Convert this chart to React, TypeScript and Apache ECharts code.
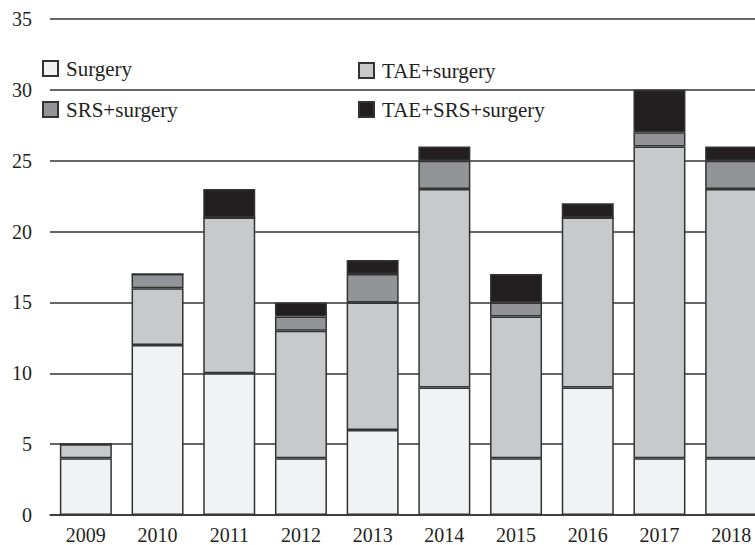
import React, { useEffect, useRef } from "react";
import * as echarts from "echarts";

const years = ["2009", "2010", "2011", "2012", "2013", "2014", "2015", "2016", "2017", "2018"];
const surgery = [4, 12, 10, 4, 6, 9, 4, 9, 4, 4];
const taeSurgery = [1, 4, 11, 9, 9, 14, 10, 12, 22, 19];
const srsSurgery = [0, 1, 0, 1, 2, 2, 1, 0, 1, 2];
const taeSrsSurgery = [0, 0, 2, 1, 1, 1, 2, 1, 3, 1];

const FONT = "'Liberation Serif', 'Times New Roman', serif";
const TEXT = "#231f20";
const EDGE = "#333333";

export default function App() {
  const ref = useRef<HTMLDivElement>(null);
  useEffect(() => {
    if (!ref.current) return;
    const chart = echarts.init(ref.current, undefined, { renderer: "svg" });
    const mk = (name: string, data: number[], color: string) => ({
      name,
      type: "bar",
      stack: "total",
      barWidth: 52,
      data,
      itemStyle: { color, borderColor: EDGE, borderWidth: 1.5 },
    });
    const legendText = { fontFamily: FONT, fontSize: 21, color: TEXT, lineHeight: 20, padding: [0, 0, 0, 3] };
    chart.setOption({
      animation: false,
      backgroundColor: "#ffffff",
      textStyle: { fontFamily: FONT, color: TEXT },
      grid: { left: 50, right: 13, top: 19, bottom: 29 },
      legend: [
        {
          data: ["Surgery", "SRS+surgery"],
          orient: "vertical",
          left: 42,
          top: 58,
          padding: 0,
          itemWidth: 15,
          itemHeight: 15,
          itemGap: 20,
          icon: "rect",
          textStyle: legendText,
        },
        {
          data: ["TAE+surgery", "TAE+SRS+surgery"],
          orient: "vertical",
          left: 358,
          top: 60,
          padding: 0,
          itemWidth: 15,
          itemHeight: 15,
          itemGap: 18,
          icon: "rect",
          textStyle: legendText,
        },
      ],
      xAxis: {
        type: "category",
        data: years,
        axisLine: { show: true, lineStyle: { color: EDGE, width: 1.5 } },
        axisTick: { show: false },
        axisLabel: { fontFamily: FONT, fontSize: 20, color: TEXT, margin: 10 },
      },
      yAxis: {
        type: "value",
        min: 0,
        max: 35,
        interval: 5,
        axisLine: { show: false },
        axisTick: { show: false },
        splitLine: { show: true, lineStyle: { color: EDGE, width: 1.5 } },
        axisLabel: { fontFamily: FONT, fontSize: 20, color: TEXT, margin: 18 },
      },
      series: [
        mk("Surgery", surgery, "#f1f2f3"),
        mk("TAE+surgery", taeSurgery, "#c8c9cb"),
        mk("SRS+surgery", srsSurgery, "#929497"),
        mk("TAE+SRS+surgery", taeSrsSurgery, "#231f20"),
      ],
    });
    return () => chart.dispose();
  }, []);
  return (
    <div style={{ position: "fixed", left: 0, top: 0, width: 755, height: 545, overflow: "hidden", background: "#fff" }}>
      <div ref={ref} style={{ width: 780, height: 545 }} />
    </div>
  );
}
